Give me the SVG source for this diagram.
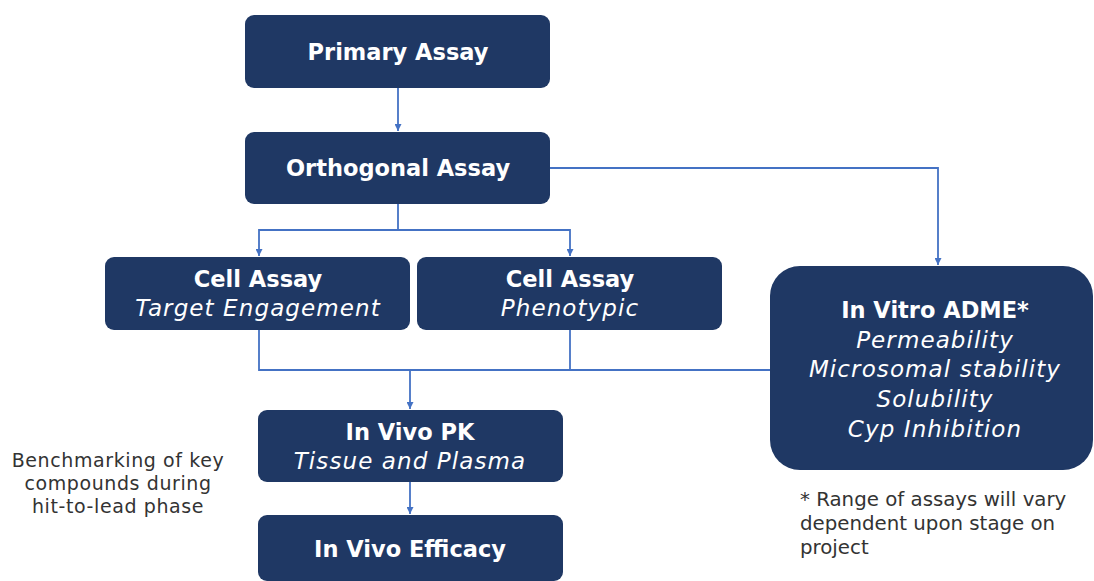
<svg xmlns="http://www.w3.org/2000/svg" width="1094" height="581" viewBox="0 0 1094 581">
<defs>
<style>
.box{fill:#1f3864;}
.t{font-family:"DejaVu Sans","Open Sans",sans-serif;fill:#ffffff;text-anchor:middle;}
.b{font-weight:700;font-size:22.5px;}
.i{font-style:italic;font-weight:300;font-size:23px;letter-spacing:1.1px;}
.n{font-family:"DejaVu Sans","Open Sans",sans-serif;fill:#333333;}
.l{font-size:19px;letter-spacing:0.6px;text-anchor:middle;}
.r{font-size:19.8px;}
.c{fill:none;stroke:#4472c4;stroke-width:1.8;}
</style>
<marker id="ah" viewBox="0 0 10 10" refX="10" refY="5" markerWidth="7" markerHeight="7" markerUnits="userSpaceOnUse" orient="auto">
<path d="M0,0 L10,5 L0,10 z" fill="#4472c4"/>
</marker>
</defs>
<rect width="1094" height="581" fill="#ffffff"/>
<g id="connectors">
<path class="c" d="M398,88 V131" marker-end="url(#ah)"/>
<path class="c" d="M398,204 V230 H259 V256" marker-end="url(#ah)"/>
<path class="c" d="M398,230 H570 V256" marker-end="url(#ah)"/>
<path class="c" d="M550,168 H938 V265" marker-end="url(#ah)"/>
<path class="c" d="M259,330 V370 H770"/>
<path class="c" d="M570,330 V370"/>
<path class="c" d="M410,370 V409" marker-end="url(#ah)"/>
<path class="c" d="M410,482 V514" marker-end="url(#ah)"/>
</g>
<g id="primary">
<rect class="box" x="245" y="15" width="305" height="73" rx="9"/>
<text class="t b" x="398" y="60">Primary Assay</text>
</g>
<g id="orthogonal">
<rect class="box" x="245" y="132" width="305" height="72" rx="9"/>
<text class="t b" x="398" y="176">Orthogonal Assay</text>
</g>
<g id="cell-target">
<rect class="box" x="105" y="257" width="305" height="73" rx="9"/>
<text class="t b" x="258" y="287">Cell Assay</text>
<text class="t i" x="258" y="316">Target Engagement</text>
</g>
<g id="cell-pheno">
<rect class="box" x="417" y="257" width="305" height="73" rx="9"/>
<text class="t b" x="570" y="287">Cell Assay</text>
<text class="t i" x="570" y="316">Phenotypic</text>
</g>
<g id="adme">
<rect class="box" x="770" y="266" width="323" height="204" rx="30"/>
<text class="t b" x="935" y="318">In Vitro ADME*</text>
<text class="t i" x="935" y="348">Permeability</text>
<text class="t i" x="935" y="377">Microsomal stability</text>
<text class="t i" x="935" y="407">Solubility</text>
<text class="t i" x="935" y="437">Cyp Inhibition</text>
</g>
<g id="invivo-pk">
<rect class="box" x="258" y="410" width="305" height="72" rx="9"/>
<text class="t b" x="410" y="440">In Vivo PK</text>
<text class="t i" x="410" y="469">Tissue and Plasma</text>
</g>
<g id="invivo-efficacy">
<rect class="box" x="258" y="515" width="305" height="66" rx="9"/>
<text class="t b" x="410" y="557">In Vivo Efficacy</text>
</g>
<g id="note-left">
<text class="n l" x="118" y="467">Benchmarking of key</text>
<text class="n l" x="118" y="490">compounds during</text>
<text class="n l" x="118" y="513">hit-to-lead phase</text>
</g>
<g id="note-right">
<text class="n r" x="800" y="506">* Range of assays will vary</text>
<text class="n r" x="800" y="530">dependent upon stage on</text>
<text class="n r" x="800" y="554">project</text>
</g>
</svg>
